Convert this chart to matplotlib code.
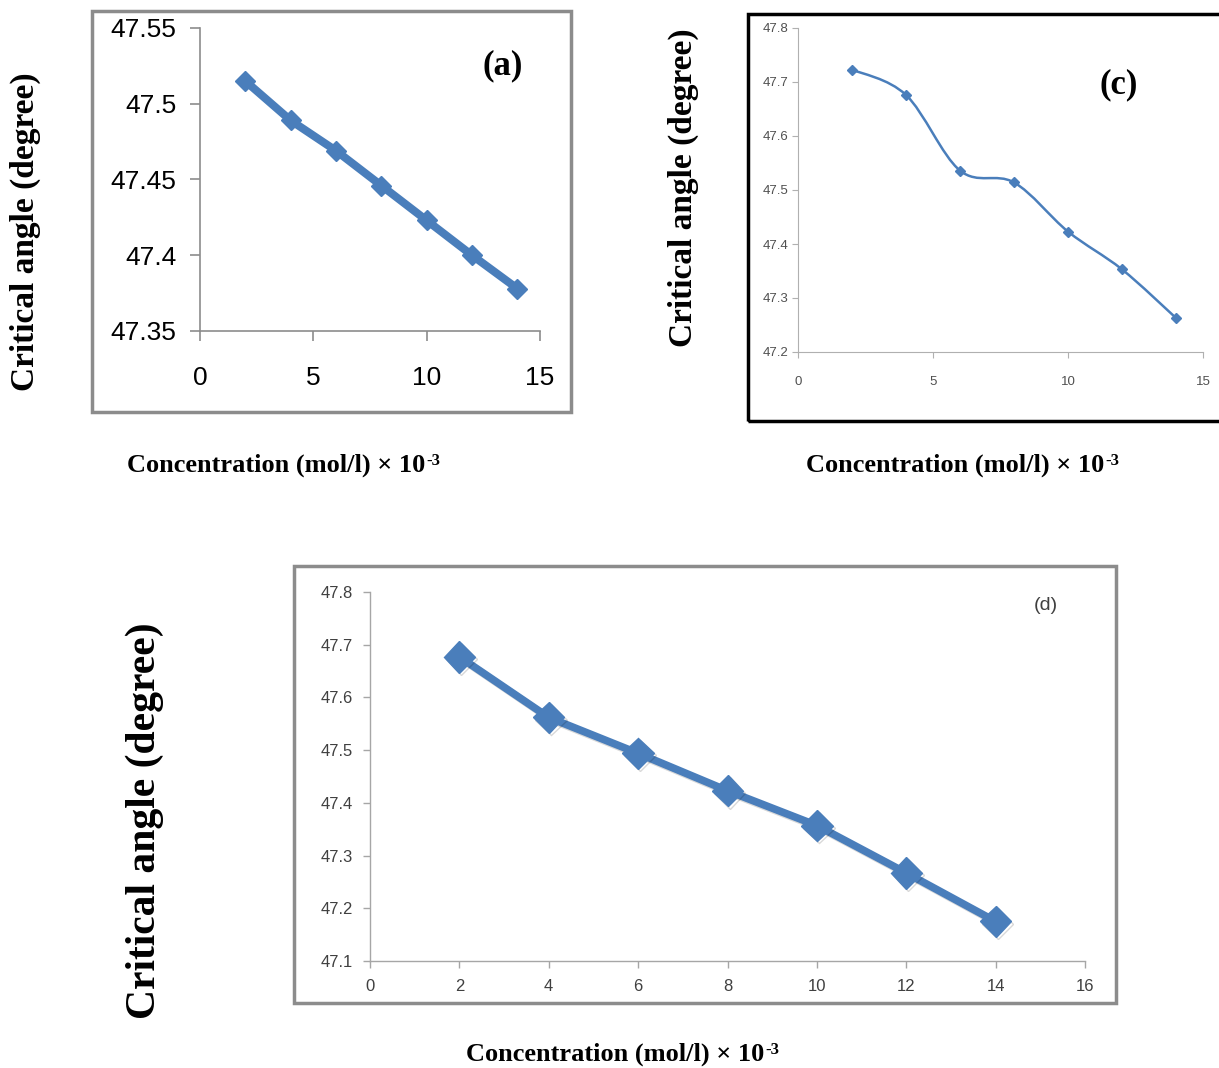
import numpy as np
import matplotlib
matplotlib.use("Agg")
import matplotlib.pyplot as plt
import matplotlib.patheffects as pe
from matplotlib.patches import Rectangle, PathPatch
from matplotlib.path import Path
from matplotlib.ticker import FuncFormatter, MultipleLocator

# Размер холста в пикселях
W, H = 1219, 1068

# Концентрация (моль/л) x 10^-3
conc = [2, 4, 6, 8, 10, 12, 14]

# Критический угол (градусы) для трёх серий
angle_a = [47.515, 47.489, 47.469, 47.446, 47.423, 47.400, 47.378]
angle_c = [47.723, 47.676, 47.536, 47.514, 47.423, 47.353, 47.263]
angle_d = [47.677, 47.562, 47.494, 47.423, 47.357, 47.267, 47.175]

BLUE = "#4A7EBB"
SERIF = "Liberation Serif"
SANS = "Liberation Sans"

fig = plt.figure(figsize=(W / 100, H / 100), dpi=100)


def px_axes(x0, y0, x1, y1):
    # оси по пиксельным координатам (от верхнего левого угла)
    return fig.add_axes([x0 / W, 1 - y1 / H, (x1 - x0) / W, (y1 - y0) / H])


def px_frame(x0, y0, x1, y1, color, lw):
    fig.add_artist(Rectangle((x0 / W, 1 - y1 / H), (x1 - x0) / W, (y1 - y0) / H,
                             transform=fig.transFigure, fill=False,
                             edgecolor=color, linewidth=lw))


def style_axes(ax, spine_color, tick_len, lw):
    for side in ("top", "right"):
        ax.spines[side].set_visible(False)
    for side in ("left", "bottom"):
        ax.spines[side].set_color(spine_color)
        ax.spines[side].set_linewidth(lw)
    ax.tick_params(direction="out", length=tick_len, width=lw, color=spine_color)
    ax.yaxis.set_major_formatter(FuncFormatter(lambda v, p: f"{v:g}"))
    ax.patch.set_alpha(0)


def smooth_path(x, y):
    # сглаженная линия (кривые Безье через точки, как в Excel)
    pts = list(zip(x, y))
    verts = [pts[0]]
    codes = [Path.MOVETO]
    n = len(pts)
    for i in range(n - 1):
        p0 = np.array(pts[max(i - 1, 0)])
        p1 = np.array(pts[i])
        p2 = np.array(pts[i + 1])
        p3 = np.array(pts[min(i + 2, n - 1)])
        c1 = p1 + (p2 - p0) / 6
        c2 = p2 - (p3 - p1) / 6
        verts += [tuple(c1), tuple(c2), tuple(p2)]
        codes += [Path.CURVE4] * 3
    return Path(verts, codes)


def xlabel_text(x, y, size=19, sup_size=12):
    t = fig.text(x / W, 1 - y / H, "Concentration (mol/l) \u00d7 10",
                 family=SERIF, weight="bold", size=size, ha="left", va="baseline")
    fig.add_artist(plt.Annotation("-3", xy=(1, 1), xycoords=t,
                                  xytext=(0.5, 0.5), textcoords="offset points",
                                  family=SERIF, weight="bold", size=sup_size,
                                  ha="left", va="top"))


def ylabel_text(x, y, size):
    fig.text(x / W, 1 - y / H, "Critical angle (degree)", family=SERIF,
             weight="bold", size=size, rotation=90, ha="center", va="center")


# ---------- (a) ----------
px_frame(92, 11, 571, 412, "#8C8C8C", 2.5)
ax = px_axes(200, 28, 540, 331)
ax.plot(conc, angle_a, color=BLUE, lw=5.8, marker="D", ms=10,
        solid_joinstyle="round", clip_on=False)
ax.set_xlim(0, 15)
ax.set_ylim(47.35, 47.55)
ax.xaxis.set_major_locator(MultipleLocator(5))
ax.yaxis.set_major_locator(MultipleLocator(0.05))
style_axes(ax, "#8C8C8C", 7, 1.2)
ax.tick_params(axis="y", pad=10)
ax.tick_params(axis="x", pad=18)
for lab in ax.get_xticklabels() + ax.get_yticklabels():
    lab.set_fontfamily(SANS)
    lab.set_fontsize(19)
ax.text(503 / W, 1 - 66 / H, "(a)", transform=fig.transFigure, family=SERIF,
        weight="bold", size=25, ha="center", va="center")
ylabel_text(25, 232, 24)
xlabel_text(127, 472)

# ---------- (c) ----------
px_frame(748, 14, 1226, 421, "black", 2.5)
ax = px_axes(798, 28, 1203, 352)
ax.add_patch(PathPatch(smooth_path(conc, angle_c), fill=False,
                       edgecolor=BLUE, lw=1.8, clip_on=False))
ax.plot(conc, angle_c, ls="none", marker="D", ms=5, color=BLUE, clip_on=False)
ax.set_xlim(0, 15)
ax.set_ylim(47.2, 47.8)
ax.xaxis.set_major_locator(MultipleLocator(5))
ax.yaxis.set_major_locator(MultipleLocator(0.1))
style_axes(ax, "#B0B0B0", 4, 0.8)
ax.tick_params(axis="y", pad=3, labelcolor="#505050")
ax.tick_params(axis="x", pad=13, labelcolor="#505050")
for lab in ax.get_xticklabels() + ax.get_yticklabels():
    lab.set_fontfamily(SANS)
    lab.set_fontsize(9.5)
ax.text(1119 / W, 1 - 85 / H, "(c)", transform=fig.transFigure, family=SERIF,
        weight="bold", size=25, ha="center", va="center")
ylabel_text(683, 188, 24)
xlabel_text(806, 472)

# ---------- (d) ----------
px_frame(294, 566, 1116, 1003, "#8C8C8C", 2.5)
ax = px_axes(370, 592, 1085, 961)
ax.plot(conc, angle_d, color=BLUE, lw=5.5, marker="D", ms=16,
        solid_joinstyle="round", clip_on=False,
        path_effects=[pe.SimpleLineShadow(offset=(1.5, -1.5), alpha=0.15),
                      pe.Normal()])
ax.set_xlim(0, 16)
ax.set_ylim(47.1, 47.8)
ax.xaxis.set_major_locator(MultipleLocator(2))
ax.yaxis.set_major_locator(MultipleLocator(0.1))
style_axes(ax, "#A6A6A6", 5, 1.0)
ax.tick_params(axis="y", pad=7, labelcolor="#404040")
ax.tick_params(axis="x", pad=8, labelcolor="#404040")
for lab in ax.get_xticklabels() + ax.get_yticklabels():
    lab.set_fontfamily(SANS)
    lab.set_fontsize(12)
ax.text(1046 / W, 1 - 606 / H, "(d)", transform=fig.transFigure, family=SANS,
        size=14, color="#404040", ha="center", va="center")
ylabel_text(145, 821, 30)
xlabel_text(466, 1061)

fig.savefig("out.png", dpi=100)
